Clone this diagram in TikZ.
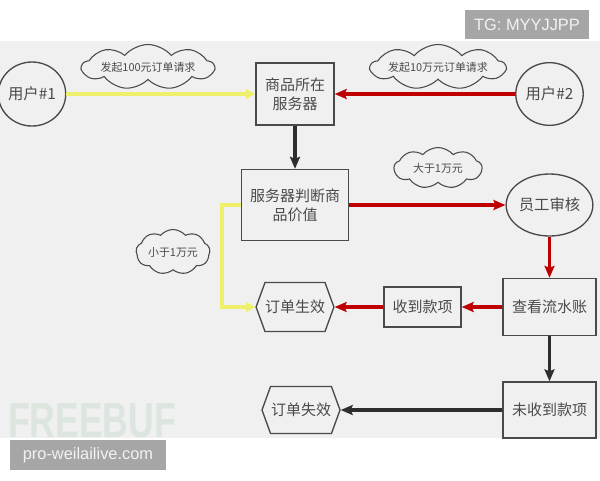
\documentclass[tikz,border=0pt]{standalone}
\usepackage{fontspec}
\setmainfont{Noto Sans CJK SC}
\newfontfamily\latinfont{Liberation Sans}
\usepackage{tikz}
\usetikzlibrary{arrows.meta,shapes.symbols,shapes.geometric}
\definecolor{bggray}{HTML}{F0F0F0}
\definecolor{taggray}{HTML}{A6A6A6}
\definecolor{inkgray}{HTML}{4A4A4A}
\definecolor{lowyellow}{HTML}{EEF06C}
\definecolor{highred}{HTML}{BE0000}
\definecolor{mainblack}{HTML}{2E2E2E}
\definecolor{markgreen}{HTML}{DCE6DF}
\tikzset{
stepbox/.style={draw=inkgray, line width=1pt, text=inkgray, align=center, inner sep=0pt, font=\fontsize{11.25pt}{14.5pt}\selectfont}, % rectangles
userring/.style={ellipse, draw=inkgray, line width=1pt, text=inkgray, inner sep=0pt, font=\fontsize{11.5pt}{14pt}\selectfont},
endhex/.style={signal, signal to=west and east, signal pointer angle=140, draw=inkgray, line width=1pt, text=inkgray, inner sep=0pt, font=\fontsize{11.25pt}{14pt}\selectfont},
note/.style={cloud, cloud puffs=9, cloud puff arc=100, cloud ignores aspect, draw=inkgray, line width=0.8pt, text=inkgray, inner sep=0pt, font=\fontsize{8.2pt}{10pt}\selectfont},
tagbox/.style={fill=taggray, text=white!95!black, inner sep=0pt, font=\latinfont\fontsize{12.3pt}{14pt}\selectfont},
}
\tikzset{
lowflow/.style={lowyellow, line width=2.6pt, -{Triangle[length=7pt,width=7pt]}},
highflow/.style={highred, line width=2.6pt, -{Stealth[length=9pt,width=7.5pt,inset=1.5pt]}},
mainflow/.style={mainblack, line width=2.6pt, -{Stealth[length=9pt,width=7.5pt,inset=1.5pt]}},
}

\begin{document}
\begin{tikzpicture}[x=0.75pt,y=0.75pt,yscale=-1,xscale=1]
\useasboundingbox (0,0) rectangle (600,480);
\fill[white] (0,0) rectangle (600,480);
%Background
\fill[bggray] (0,41) rectangle (600,438);
\begin{scope}
\clip (0,41) rectangle (600,438);
\node[anchor=base west, inner sep=0pt, text=markgreen, xscale=0.72, font=\latinfont\bfseries\fontsize{37pt}{37pt}\selectfont] (mark) at (8,437) {FREEBUF};
\end{scope}
%Tags
\node[tagbox, minimum width=93pt, minimum height=21.75pt] (tg) at (527,24.5) {TG: MYYJJPP};
\node[tagbox, minimum width=117pt, minimum height=22.5pt] (site) at (88,455) {pro-weilailive.com};
%Users
\node[userring, minimum width=48pt, minimum height=48pt] (user1) at (32,94) {用户\#1};
\node[userring, minimum width=48.5pt, minimum height=47pt] (user2) at (549.5,94) {用户\#2};
\node[userring, minimum width=57.75pt, minimum height=46.5pt] (audit) at (549.5,205) {员工审核};
%Rects
\node[stepbox, minimum width=58.5pt, minimum height=46.5pt] (server) at (295,94) {商品所在\\服务器};
\node[stepbox, minimum width=80.25pt, minimum height=53.25pt] (judge) at (295,205) {服务器判断商\\品价值};
\node[stepbox, minimum width=69.75pt, minimum height=42.75pt] (ledger) at (549.5,307) {查看流水账};
\node[stepbox, minimum width=57.75pt, minimum height=30pt] (paid) at (422.5,307) {收到款项};
\node[stepbox, minimum width=69.75pt, minimum height=42pt] (unpaid) at (549.5,410) {未收到款项};
%Hexagons
\node[endhex, minimum width=57.75pt, minimum height=36.75pt] (valid) at (295,307) {订单生效};
\node[endhex, minimum width=58.5pt, minimum height=35.25pt] (invalid) at (301,410) {订单失效};
%Clouds
\node[note, minimum width=99pt, minimum height=33.75pt] (ask1) at (148,67) {发起100元订单请求};
\node[note, minimum width=97.5pt, minimum height=33.75pt] (ask2) at (438,67) {发起10万元订单请求};
\node[note, minimum width=66pt, minimum height=30.75pt] (above) at (438,168) {大于1万元};
\node[note, minimum width=55.5pt, minimum height=33.75pt] (below) at (173,252) {小于1万元};
%Straight Lines
\coordinate (lowbend) at (222,205);
\draw[lowflow] (user1.east) -- (server.west);
\draw[highflow] (user2.west) -- (server.east);
\draw[mainflow] (server.south) -- (judge.north);
\draw[highflow] (judge.east) -- (audit.west);
\draw[highflow] (audit.south) -- (ledger.north);
\draw[highflow] (ledger.west) -- (paid.east);
\draw[highflow] (paid.west) -- (valid.east);
\draw[lowflow] (judge.west) -- (lowbend) |- (valid.west);
\draw[mainflow] (ledger.south) -- (unpaid.north);
\draw[mainflow] (unpaid.west) -- (invalid.east);
\end{tikzpicture}
\end{document}
